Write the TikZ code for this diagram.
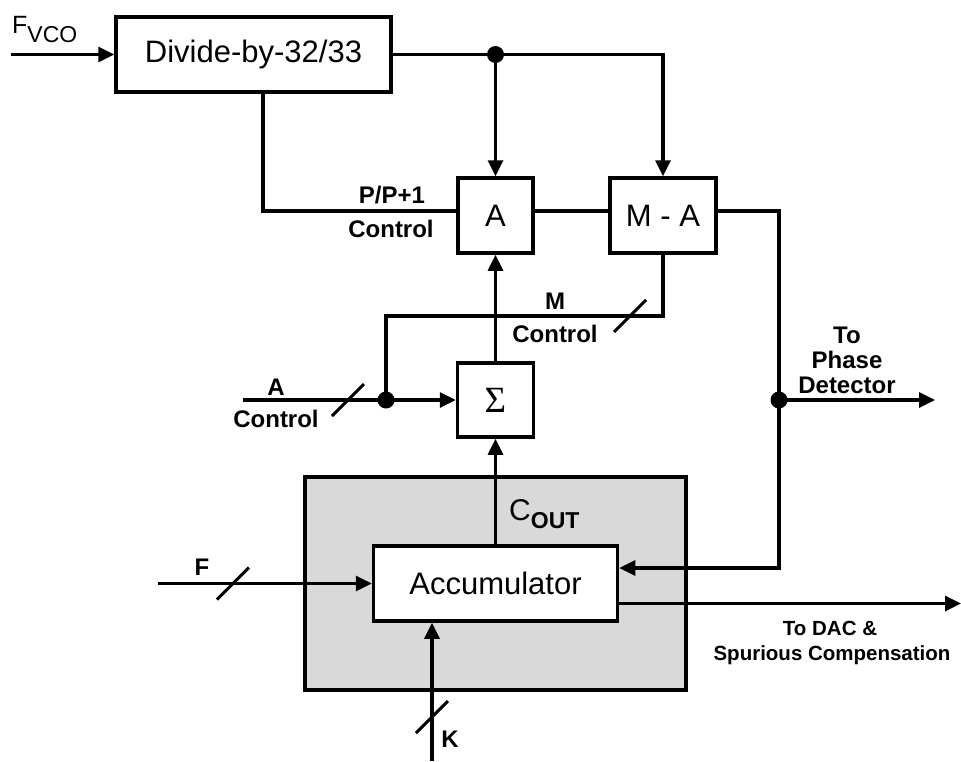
\documentclass[tikz,border=0pt]{standalone}
\usepackage{fontspec}
\setmainfont{Liberation Sans}
\newfontfamily\sigmafont{Liberation Serif}
\usetikzlibrary{arrows.meta}
\definecolor{boxgray}{RGB}{217,217,217}
\begin{document}
\begin{tikzpicture}[x=1pt,y=-1pt,
  blk/.style={draw,line width=3.5pt,fill=white,inner sep=0pt,font=\fontsize{31}{33}\selectfont},
  wire/.style={line width=3.3pt},
  arr/.style={wire,-{Triangle[length=16pt,width=15pt]}},
  lbl/.style={font=\bfseries\fontsize{24}{26}\selectfont,inner sep=0pt,anchor=base},
  dot/.style={circle,fill,inner sep=0pt,minimum size=17pt},
  slashst/.style={line width=3pt}]
\useasboundingbox (0,0) rectangle (961,761);

% shaded frame
\node[draw,line width=3.5pt,fill=boxgray,minimum width=381pt,minimum height=213pt] (frame) at (495.5,583.5) {};

% blocks
\node[blk,minimum width=275pt,minimum height=75pt] (div) at (253.5,54.5) {Divide-by-32/33};
\node[blk,minimum width=75pt,minimum height=75pt] (A) at (495.5,215.5) {A};
\node[blk,minimum width=106pt,minimum height=75pt] (MA) at (663,215.5) {M - A};
\node[blk,minimum width=76pt,minimum height=74pt,font=\sigmafont\fontsize{37}{39}\selectfont] (sigma) at (495.5,400) {Σ};
\node[blk,minimum width=244pt,minimum height=75pt] (acc) at (495.5,583.5) {Accumulator};

% junctions and free ends
\node[dot] (tdot) at (495.5,54.5) {};
\node[dot] (pdot) at (779,400) {};
\node[dot] (adot) at (386,400) {};
\coordinate (fvin) at (11,54.5);
\coordinate (ppc) at (263,211);
\coordinate (mcor) at (386,316);
\coordinate (ain) at (243,400);
\coordinate (pdend) at (935,400);
\coordinate (fin) at (158,583.5);
\coordinate (kin) at (432,761);
\coordinate (dacend) at (961,603.5);

% connectors
\draw[arr] (fvin) -- (div.west);
\draw[arr] (div.east) -| (MA.north);
\draw[arr] (tdot.center) -- (A.north);
\draw[wire] (div.south -| ppc) |- ([yshift=4.5pt]A.west);
\draw[wire] ([yshift=4.5pt]A.east) -- ([yshift=4.5pt]MA.west);
\draw[arr] ([yshift=4.5pt]MA.east) -| (pdot.center) |- ([yshift=15.5pt]acc.east);
\draw[arr] (pdot.center) -- (pdend);
\draw[wire] (MA.south) |- (mcor) -- (adot.center);
\draw[arr] (ain) -- (sigma.west);
\draw[arr] (sigma.north) -- (A.south);
\draw[arr] (acc.north) -- (sigma.south);
\draw[arr] (fin) -- (acc.west);
\draw[arr] (kin) -- (kin |- acc.south);
\draw[arr] ([yshift=-20pt]acc.east) -- (dacend);

% bus slashes
\coordinate (sA) at (348,400);
\coordinate (sM) at (630,316);
\coordinate (sF) at (233,583.5);
\coordinate (sK) at (432,717);
\foreach \s in {sA,sM,sF,sK}
  \draw[slashst] ([shift={(-16,16)}]\s) -- ([shift={(16,-16)}]\s);

% labels
\node[anchor=base west,inner sep=0pt] (lfvco) at (12,33)
  {\fontsize{25}{27}\selectfont F\raisebox{-9pt}{\fontsize{23}{25}\selectfont VCO}};
\node[anchor=base west,inner sep=0pt] (lcout) at (509,520)
  {\fontsize{30}{32}\selectfont C\raisebox{-8pt}{\bfseries\fontsize{23}{25}\selectfont OUT}};
\node[lbl] (lpp1) at (392,203) {P/P+1};
\node[lbl] (lpp2) at (391,237) {Control};
\node[lbl] (lm1) at (555,309) {M};
\node[lbl] (lm2) at (555,342) {Control};
\node[lbl] (la1) at (276,395) {A};
\node[lbl] (la2) at (276,427) {Control};
\node[lbl] (lpd1) at (847,343) {To};
\node[lbl] (lpd2) at (847,368) {Phase};
\node[lbl] (lpd3) at (847,393) {Detector};
\node[lbl] (lf) at (202,575) {F};
\node[lbl] (lk) at (450,747) {K};
\node[lbl,font=\bfseries\fontsize{20.5}{22}\selectfont] (ld1) at (830,635) {To DAC \&};
\node[lbl,font=\bfseries\fontsize{20.5}{22}\selectfont] (ld2) at (832,660) {Spurious Compensation};
\end{tikzpicture}
\end{document}
